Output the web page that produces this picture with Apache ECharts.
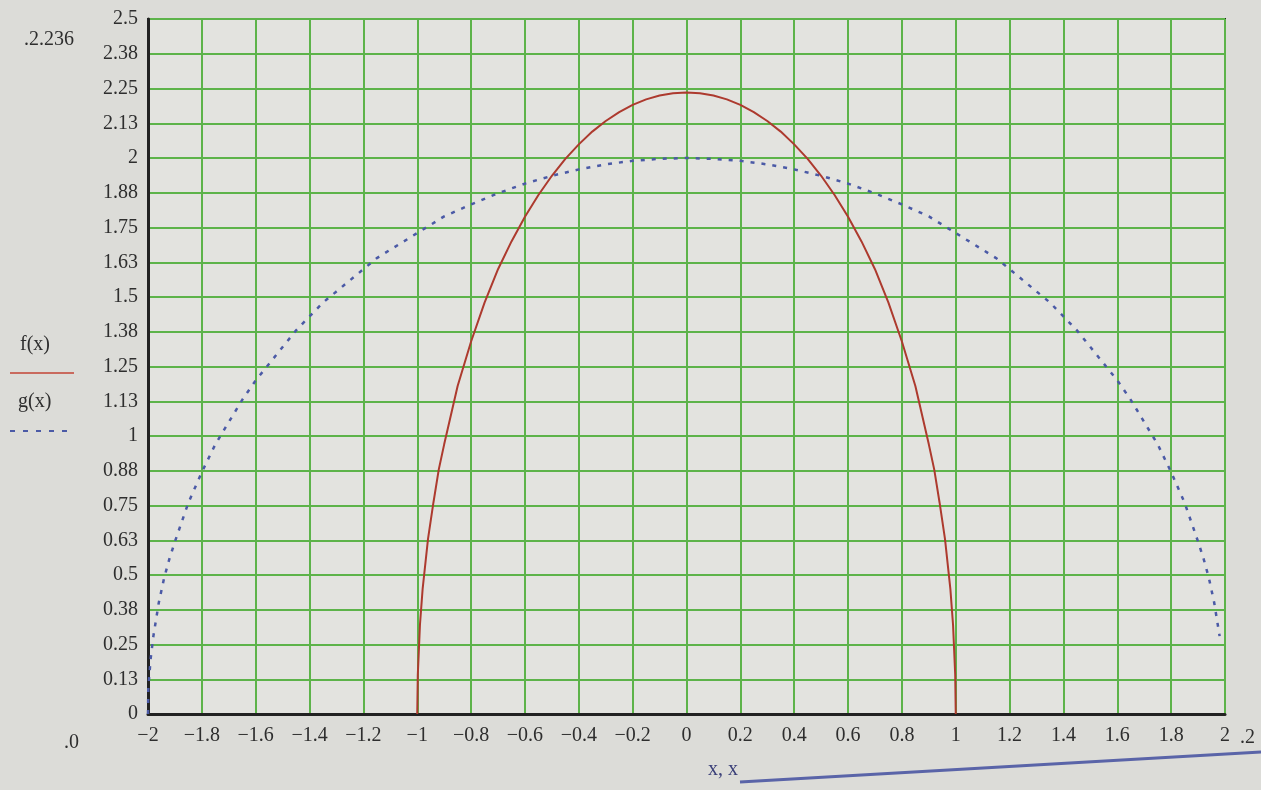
<!DOCTYPE html>
<html>
<head>
<meta charset="utf-8">
<script src="https://cdn.jsdelivr.net/npm/echarts@6/dist/echarts.min.js"></script>
<style>
    html, body { margin: 0; padding: 0; background: #dcdcd8; }
    #graph { width: 1261px; height: 790px; }
</style>
</head>
<body>
<div id="graph"></div>
<script>
// f(x), red solid curve
var fX = [-1, -0.998, -0.99, -0.98, -0.96, -0.94, -0.92, -0.9, -0.85, -0.8, -0.75, -0.7, -0.65,
    -0.6, -0.55, -0.5, -0.45, -0.4, -0.35, -0.3, -0.25, -0.2, -0.15, -0.1, -0.05, 0,
    0.05, 0.1, 0.15, 0.2, 0.25, 0.3, 0.35, 0.4, 0.45, 0.5, 0.55, 0.6,
    0.65, 0.7, 0.75, 0.8, 0.85, 0.9, 0.92, 0.94, 0.96, 0.98, 0.99, 0.998, 1];
var fY = [0, 0.14, 0.32, 0.45, 0.63, 0.76, 0.88, 0.97, 1.18, 1.34, 1.48, 1.60, 1.70,
    1.789, 1.867, 1.936, 1.997, 2.049, 2.095, 2.133, 2.165, 2.191, 2.211, 2.225, 2.233, 2.236,
    2.233, 2.225, 2.211, 2.191, 2.165, 2.133, 2.095, 2.049, 1.997, 1.936, 1.867, 1.789,
    1.70, 1.60, 1.48, 1.34, 1.18, 0.97, 0.88, 0.76, 0.63, 0.45, 0.32, 0.14, 0];

// g(x), blue dotted curve
var gX = [-2, -1.999, -1.995, -1.99, -1.98, -1.96, -1.94, -1.92, -1.9, -1.85, -1.8, -1.75, -1.7,
    -1.65, -1.6, -1.55, -1.5, -1.45, -1.4, -1.35, -1.3, -1.25, -1.2, -1.15, -1.1, -1.05, -1,
    -0.9, -0.8, -0.7, -0.6, -0.5, -0.4, -0.3, -0.2, -0.1, 0,
    0.1, 0.2, 0.3, 0.4, 0.5, 0.6, 0.7, 0.8, 0.9, 1,
    1.05, 1.1, 1.15, 1.2, 1.25, 1.3, 1.35, 1.4, 1.45, 1.5, 1.55, 1.6, 1.65,
    1.7, 1.75, 1.8, 1.85, 1.9, 1.92, 1.94, 1.96, 1.98];
var gY = [0, 0.09, 0.14, 0.2, 0.28, 0.4, 0.49, 0.56, 0.62, 0.76, 0.87, 0.97, 1.05,
    1.13, 1.2, 1.26, 1.32, 1.38, 1.43, 1.48, 1.52, 1.56, 1.6, 1.64, 1.67, 1.70, 1.73,
    1.79, 1.833, 1.873, 1.908, 1.936, 1.959, 1.977, 1.99, 1.997, 2.0,
    1.997, 1.99, 1.977, 1.959, 1.936, 1.908, 1.873, 1.833, 1.79, 1.73,
    1.70, 1.67, 1.64, 1.6, 1.56, 1.52, 1.48, 1.43, 1.38, 1.32, 1.26, 1.2, 1.13,
    1.05, 0.97, 0.87, 0.76, 0.62, 0.56, 0.49, 0.4, 0.28];

// tick labels as printed on the plot
var xTickLabels = ["\u22122", "\u22121.8", "\u22121.6", "\u22121.4", "\u22121.2", "\u22121",
    "\u22120.8", "\u22120.6", "\u22120.4", "\u22120.2", "0", "0.2", "0.4", "0.6", "0.8", "1",
    "1.2", "1.4", "1.6", "1.8", "2"];
var yTickLabels = ["0", "0.13", "0.25", "0.38", "0.5", "0.63", "0.75", "0.88", "1", "1.13",
    "1.25", "1.38", "1.5", "1.63", "1.75", "1.88", "2", "2.13", "2.25", "2.38", "2.5"];

var redColor = "#ad3a2e";
var blueColor = "#4b5aa6";
var gridGreen = "#5db34a";
var textColor = "#2e2e2e";
var font = "Liberation Serif";

var chart = echarts.init(document.getElementById("graph"));

var fData = fX.map(function(x, i) { return [x, fY[i]]; });
var gData = gX.map(function(x, i) { return [x, gY[i]]; });

var option = {
    backgroundColor: "#dcdcd8",
    animation: false,
    grid: {
        left: 148,
        right: 36,
        top: 19,
        bottom: 76,
        show: true,
        backgroundColor: "#e3e3df",
        borderColor: "#222",
        borderWidth: 2
    },
    xAxis: {
        type: "value",
        min: -2,
        max: 2,
        interval: 0.2,
        axisLine: { show: true, onZero: false, lineStyle: { color: "#222", width: 3 } },
        axisTick: { show: false },
        splitLine: { show: true, lineStyle: { color: gridGreen, width: 2 } },
        axisLabel: {
            margin: 12,
            color: textColor,
            fontFamily: font,
            fontSize: 20,
            formatter: function(v) {
                return xTickLabels[Math.round((v + 2) / 0.2)];
            }
        }
    },
    yAxis: {
        type: "value",
        min: 0,
        max: 2.5,
        interval: 0.125,
        axisLine: { show: true, onZero: false, lineStyle: { color: "#222", width: 3 } },
        axisTick: { show: false },
        splitLine: { show: true, lineStyle: { color: gridGreen, width: 2 } },
        axisLabel: {
            margin: 10,
            color: textColor,
            fontFamily: font,
            fontSize: 20,
            formatter: function(v) {
                return yTickLabels[Math.round(v / 0.125)];
            }
        }
    },
    series: [
        {
            name: "f(x)",
            type: "line",
            data: fData,
            symbol: "none",
            lineStyle: { color: redColor, width: 2 }
        },
        {
            name: "g(x)",
            type: "line",
            data: gData,
            symbol: "none",
            lineStyle: { color: blueColor, width: 2.5, type: [4, 7] }
        }
    ],
    graphic: [
        // legend on the left
        { type: "text", left: 20, top: 335, style: { text: "f(x)", font: "20px " + font, fill: textColor } },
        { type: "line", shape: { x1: 10, y1: 373, x2: 74, y2: 373 }, style: { stroke: "#c96a5e", lineWidth: 2 } },
        { type: "text", left: 18, top: 392, style: { text: "g(x)", font: "20px " + font, fill: textColor } },
        { type: "line", shape: { x1: 10, y1: 431, x2: 72, y2: 431 }, style: { stroke: blueColor, lineWidth: 2, lineDash: [5, 8] } },
        // axis limit markers
        { type: "text", left: 24, top: 30, style: { text: ".2.236", font: "20px " + font, fill: textColor } },
        { type: "text", left: 64, top: 733, style: { text: ".0", font: "20px " + font, fill: textColor } },
        { type: "text", left: 1240, top: 728, style: { text: ".2", font: "20px " + font, fill: textColor } },
        // axis name
        { type: "text", left: 708, top: 760, style: { text: "x, x", font: "20px " + font, fill: "#3a3f78" } },
        // border of the screen below the plot
        { type: "line", shape: { x1: 740, y1: 782, x2: 1261, y2: 752 }, style: { stroke: "#5a64a8", lineWidth: 3 } }
    ]
};

chart.setOption(option);
</script>
</body>
</html>
